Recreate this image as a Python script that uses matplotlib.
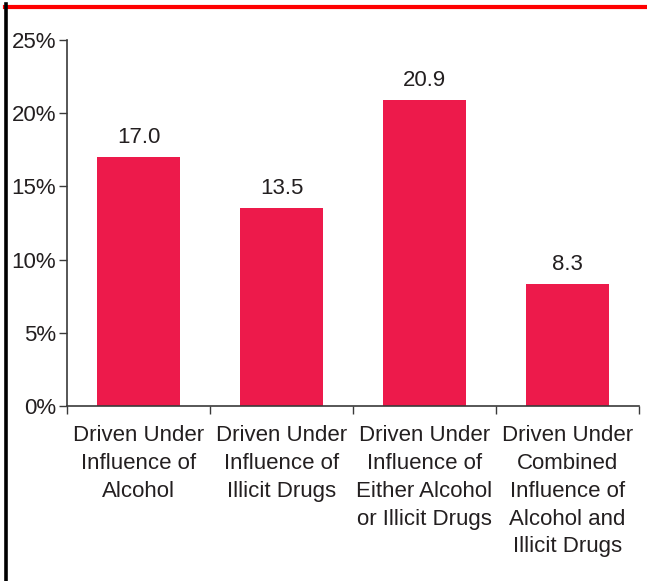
import matplotlib
matplotlib.use('Agg')
import matplotlib.pyplot as plt
from matplotlib.lines import Line2D

plt.rcParams['font.family'] = ['Liberation Sans', 'DejaVu Sans']

categories = [
    "Driven Under\nInfluence of\nAlcohol",
    "Driven Under\nInfluence of\nIllicit Drugs",
    "Driven Under\nInfluence of\nEither Alcohol\nor Illicit Drugs",
    "Driven Under\nCombined\nInfluence of\nAlcohol and\nIllicit Drugs",
]
values = [17.0, 13.5, 20.9, 8.3]
yticks = [0, 5, 10, 15, 20, 25]

BAR = '#ED1A4B'
TXT = '#231F20'
AX = '#3a3a3a'

fig = plt.figure(figsize=(6.47, 5.81), dpi=100)
ax = fig.add_axes([67/647, 1 - 406/581, (639-67)/647, (406-40)/581])

xs = list(range(len(values)))
ax.bar(xs, values, width=0.585, color=BAR, zorder=2)
for x, v in zip(xs, values):
    ax.text(x, v + 0.65, f'{v:.1f}', ha='center', va='bottom', fontsize=16, color=TXT)

ax.set_xlim(-0.5, len(values) - 0.5)
ax.set_ylim(0, 25)
ax.set_yticks(yticks)
ax.set_yticklabels([f'{t}%' for t in yticks], fontsize=16, color=TXT)

# ticks at category boundaries, labels centred under bars
ax.set_xticks([i - 0.5 for i in range(len(values) + 1)])
ax.set_xticklabels([])
ax.set_xticks(xs, minor=True)
ax.set_xticklabels(categories, minor=True, fontsize=16, color=TXT, linespacing=1.42, va='top')
ax.tick_params(axis='x', which='minor', length=0, pad=14)
ax.tick_params(axis='x', which='major', length=6, width=1, color=AX, direction='out')
ax.tick_params(axis='y', length=6, width=1, color=AX, direction='out', pad=2)

for s in ['top', 'right']:
    ax.spines[s].set_visible(False)
for s in ['left', 'bottom']:
    ax.spines[s].set_color(AX)
    ax.spines[s].set_linewidth(1.2)

# frame pieces from the cropped original
fig.add_artist(Line2D([5/647, 1.0], [1 - 6.5/581, 1 - 6.5/581], transform=fig.transFigure,
                      color='#FF0000', linewidth=3))
fig.add_artist(Line2D([6/647, 6/647], [0, 1 - 4/581], transform=fig.transFigure,
                      color='black', linewidth=2.6))

fig.savefig('out.png', dpi=100)
